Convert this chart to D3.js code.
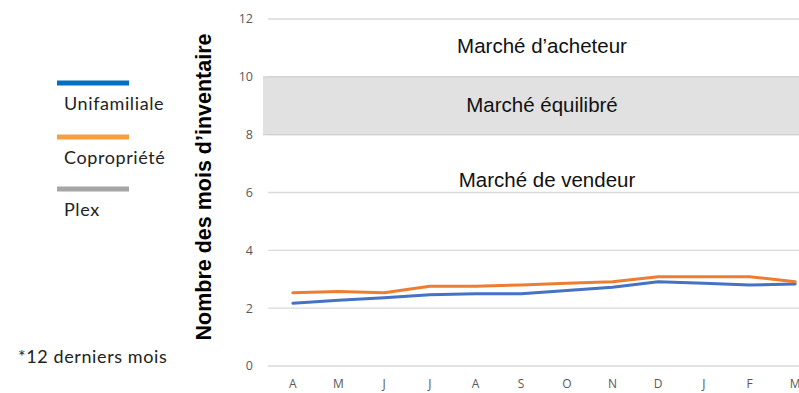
<!DOCTYPE html>
<html>
<head>
<meta charset="utf-8">
<script src="https://cdn.jsdelivr.net/npm/d3@7"></script>
<style>
  html, body { margin: 0; padding: 0; background: #fff; }
  svg { display: block; }
</style>
</head>
<body>
<svg id="chart" width="799" height="393"></svg>
<script>
// Months (April to March)
const months = ["A", "M", "J", "J", "A", "S", "O", "N", "D", "J", "F", "M"];
// Months of inventory per property type
const unifamiliale = [2.17, 2.27, 2.36, 2.46, 2.50, 2.50, 2.61, 2.72, 2.91, 2.86, 2.80, 2.84];
const copropriete  = [2.53, 2.58, 2.53, 2.76, 2.76, 2.80, 2.86, 2.91, 3.09, 3.09, 3.09, 2.91];
const plex = [];
const yTicks = [0, 2, 4, 6, 8, 10, 12];
// Balanced-market zone
const balancedZone = [8, 10];

const series = [
  { name: "Unifamiliale", values: unifamiliale, color: "#4472C4", legend: "#0070C0" },
  { name: "Copropriété", values: copropriete, color: "#ED7D31", legend: "#F4A040" },
  { name: "Plex", values: plex, color: "#A5A5A5", legend: "#A6A6A6" }
];

const svg = d3.select("#chart");
const x = d3.scaleBand().domain(d3.range(months.length)).range([270, 818]);
const y = d3.scaleLinear().domain([0, 12]).range([366, 19]);
const cx = i => x(i) + x.bandwidth() / 2;

// Gridlines
svg.append("g").selectAll("line").data(yTicks).join("line")
  .attr("x1", 268).attr("x2", 799)
  .attr("y1", d => y(d)).attr("y2", d => y(d))
  .attr("stroke", "#d9d9d9").attr("stroke-width", 1.3);

// Balanced zone band
svg.append("rect")
  .attr("x", 263).attr("width", 799 - 263)
  .attr("y", y(balancedZone[1])).attr("height", y(balancedZone[0]) - y(balancedZone[1]))
  .attr("fill", "#e1e1e1");
svg.append("g").selectAll("line").data(balancedZone).join("line")
  .attr("x1", 263).attr("x2", 799)
  .attr("y1", d => y(d)).attr("y2", d => y(d))
  .attr("stroke", "#d0d0d0").attr("stroke-width", 1.3);

// Y tick labels
svg.append("g").selectAll("text").data(yTicks).join("text")
  .attr("x", 253).attr("y", d => y(d)).attr("dy", "0.35em")
  .attr("text-anchor", "end")
  .attr("font-family", "Open Sans, Liberation Sans, sans-serif")
  .attr("font-size", 12.5).attr("fill", "#595959")
  .text(d => d);

// X tick labels
svg.append("g").selectAll("text").data(months).join("text")
  .attr("x", (d, i) => cx(i)).attr("y", 388)
  .attr("text-anchor", "middle")
  .attr("font-family", "Open Sans, Liberation Sans, sans-serif")
  .attr("font-size", 12).attr("fill", "#595959")
  .text(d => d);

// Zone labels
const zoneLabels = [
  { text: "Marché d’acheteur", v: 10.82, xc: 542 },
  { text: "Marché équilibré", v: 8.78, xc: 542 },
  { text: "Marché de vendeur", v: 6.2, xc: 547 }
];
svg.append("g").selectAll("text").data(zoneLabels).join("text")
  .attr("x", d => d.xc).attr("y", d => y(d.v))
  .attr("text-anchor", "middle")
  .attr("font-family", "Liberation Sans, Arial, sans-serif")
  .attr("font-size", 20.5).attr("fill", "#111")
  .text(d => d.text);

// Series lines
const line = d3.line().x((d, i) => cx(i)).y(d => y(d));
svg.append("g").selectAll("path").data(series.filter(s => s.values.length)).join("path")
  .attr("d", s => line(s.values))
  .attr("fill", "none").attr("stroke", s => s.color)
  .attr("stroke-width", 3).attr("stroke-linejoin", "round").attr("stroke-linecap", "round");

// Y axis title
svg.append("text")
  .attr("transform", "translate(211,187) rotate(-90)")
  .attr("text-anchor", "middle")
  .attr("font-family", "Liberation Sans, Arial, sans-serif")
  .attr("font-weight", "bold").attr("font-size", 21.5).attr("fill", "#000")
  .text("Nombre des mois d’inventaire");

// Legend
const lg = svg.append("g").selectAll("g").data(series).join("g")
  .attr("transform", (d, i) => `translate(0,${[83, 137, 189][i]})`);
lg.append("line").attr("x1", 57).attr("x2", 129).attr("y1", 0).attr("y2", 0)
  .attr("stroke", d => d.legend).attr("stroke-width", 5);
lg.append("text").attr("x", 64).attr("y", 27)
  .attr("font-family", "Lato, sans-serif").attr("font-size", 18)
  .attr("letter-spacing", 0.6).attr("fill", "#222")
  .text(d => d.name);

// Footnote
svg.append("text").attr("x", 18).attr("y", 363)
  .attr("font-family", "Lato, sans-serif").attr("font-size", 18)
  .attr("letter-spacing", 0.6).attr("fill", "#222")
  .text("*12 derniers mois");
</script>
</body>
</html>
